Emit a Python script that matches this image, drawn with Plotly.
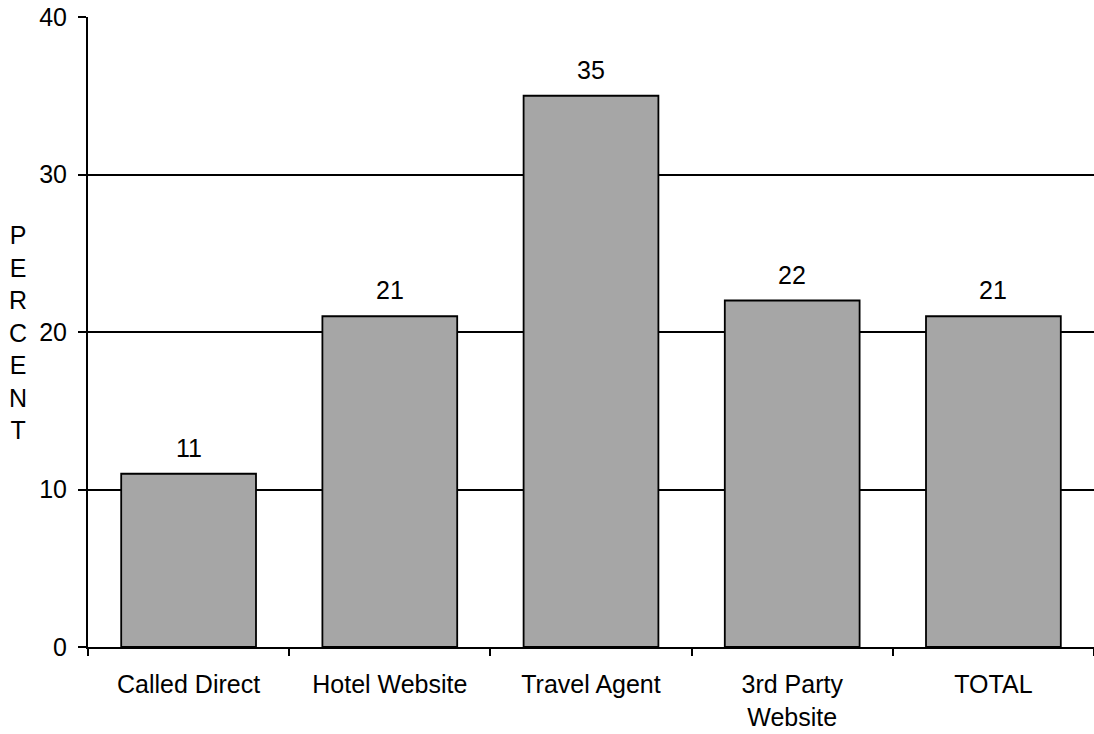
import plotly.graph_objects as go

categories = ["Called Direct", "Hotel Website", "Travel Agent", "3rd Party<br>Website", "TOTAL"]
values = [11, 21, 35, 22, 21]
y_ticks = [0, 10, 20, 30, 40]

FONT = "Liberation Sans, Arial, sans-serif"
FS = 25
xs = list(range(len(categories)))

fig = go.Figure()
fig.add_trace(go.Bar(
    x=xs, y=values,
    marker=dict(color="#a6a6a6", line=dict(color="#000000", width=1.8)),
    width=0.67, showlegend=False, hoverinfo="y",
))
# invisible trace for the boundary-tick axis
fig.add_trace(go.Scatter(x=[-0.5, len(categories) - 0.5], y=[0, 0], xaxis="x2",
                         mode="markers", marker=dict(opacity=0), showlegend=False, hoverinfo="skip"))

for x, v in zip(xs, values):
    fig.add_annotation(x=x, y=v, text=str(v), showarrow=False, yshift=26, yanchor="middle",
                       font=dict(family=FONT, size=FS, color="#000"))

fig.add_annotation(xref="paper", yref="paper", x=-0.0696, y=0.5, xanchor="center", yanchor="middle",
                   text="<br>".join(list("PERCENT")), showarrow=False,
                   font=dict(family=FONT, size=FS, color="#000"))

fig.update_layout(
    width=1094, height=734,
    margin=dict(l=88, r=0, t=17, b=87),
    paper_bgcolor="white", plot_bgcolor="white",
    font=dict(family=FONT, size=FS, color="#000"),
    xaxis=dict(range=[-0.5, len(categories) - 0.5], tickvals=xs, ticktext=categories,
               ticks="", showgrid=False, zeroline=False, showline=True,
               linecolor="#000", linewidth=2, fixedrange=True, ticklabelstandoff=14,
               tickfont=dict(family=FONT, size=FS, color="#000")),
    xaxis2=dict(overlaying="x", range=[-0.5, len(categories) - 0.5],
                tickvals=[i - 0.5 for i in range(len(categories) + 1)],
                showticklabels=False, ticks="outside", ticklen=8, tickwidth=2,
                tickcolor="#000", showgrid=False, zeroline=False, showline=False,
                side="bottom", anchor="y"),
    yaxis=dict(range=[0, 40], tickvals=y_ticks, ticks="outside", ticklen=8, tickwidth=1.5,
               tickcolor="#000", showgrid=True, gridcolor="#000", gridwidth=1.5,
               zeroline=False, showline=True, linecolor="#000", linewidth=2,
               tickfont=dict(family=FONT, size=FS, color="#000"), ticklabelstandoff=6),
)

fig.write_html("out.html", config={"displayModeBar": False},
               post_script="document.body.style.margin='0';")
